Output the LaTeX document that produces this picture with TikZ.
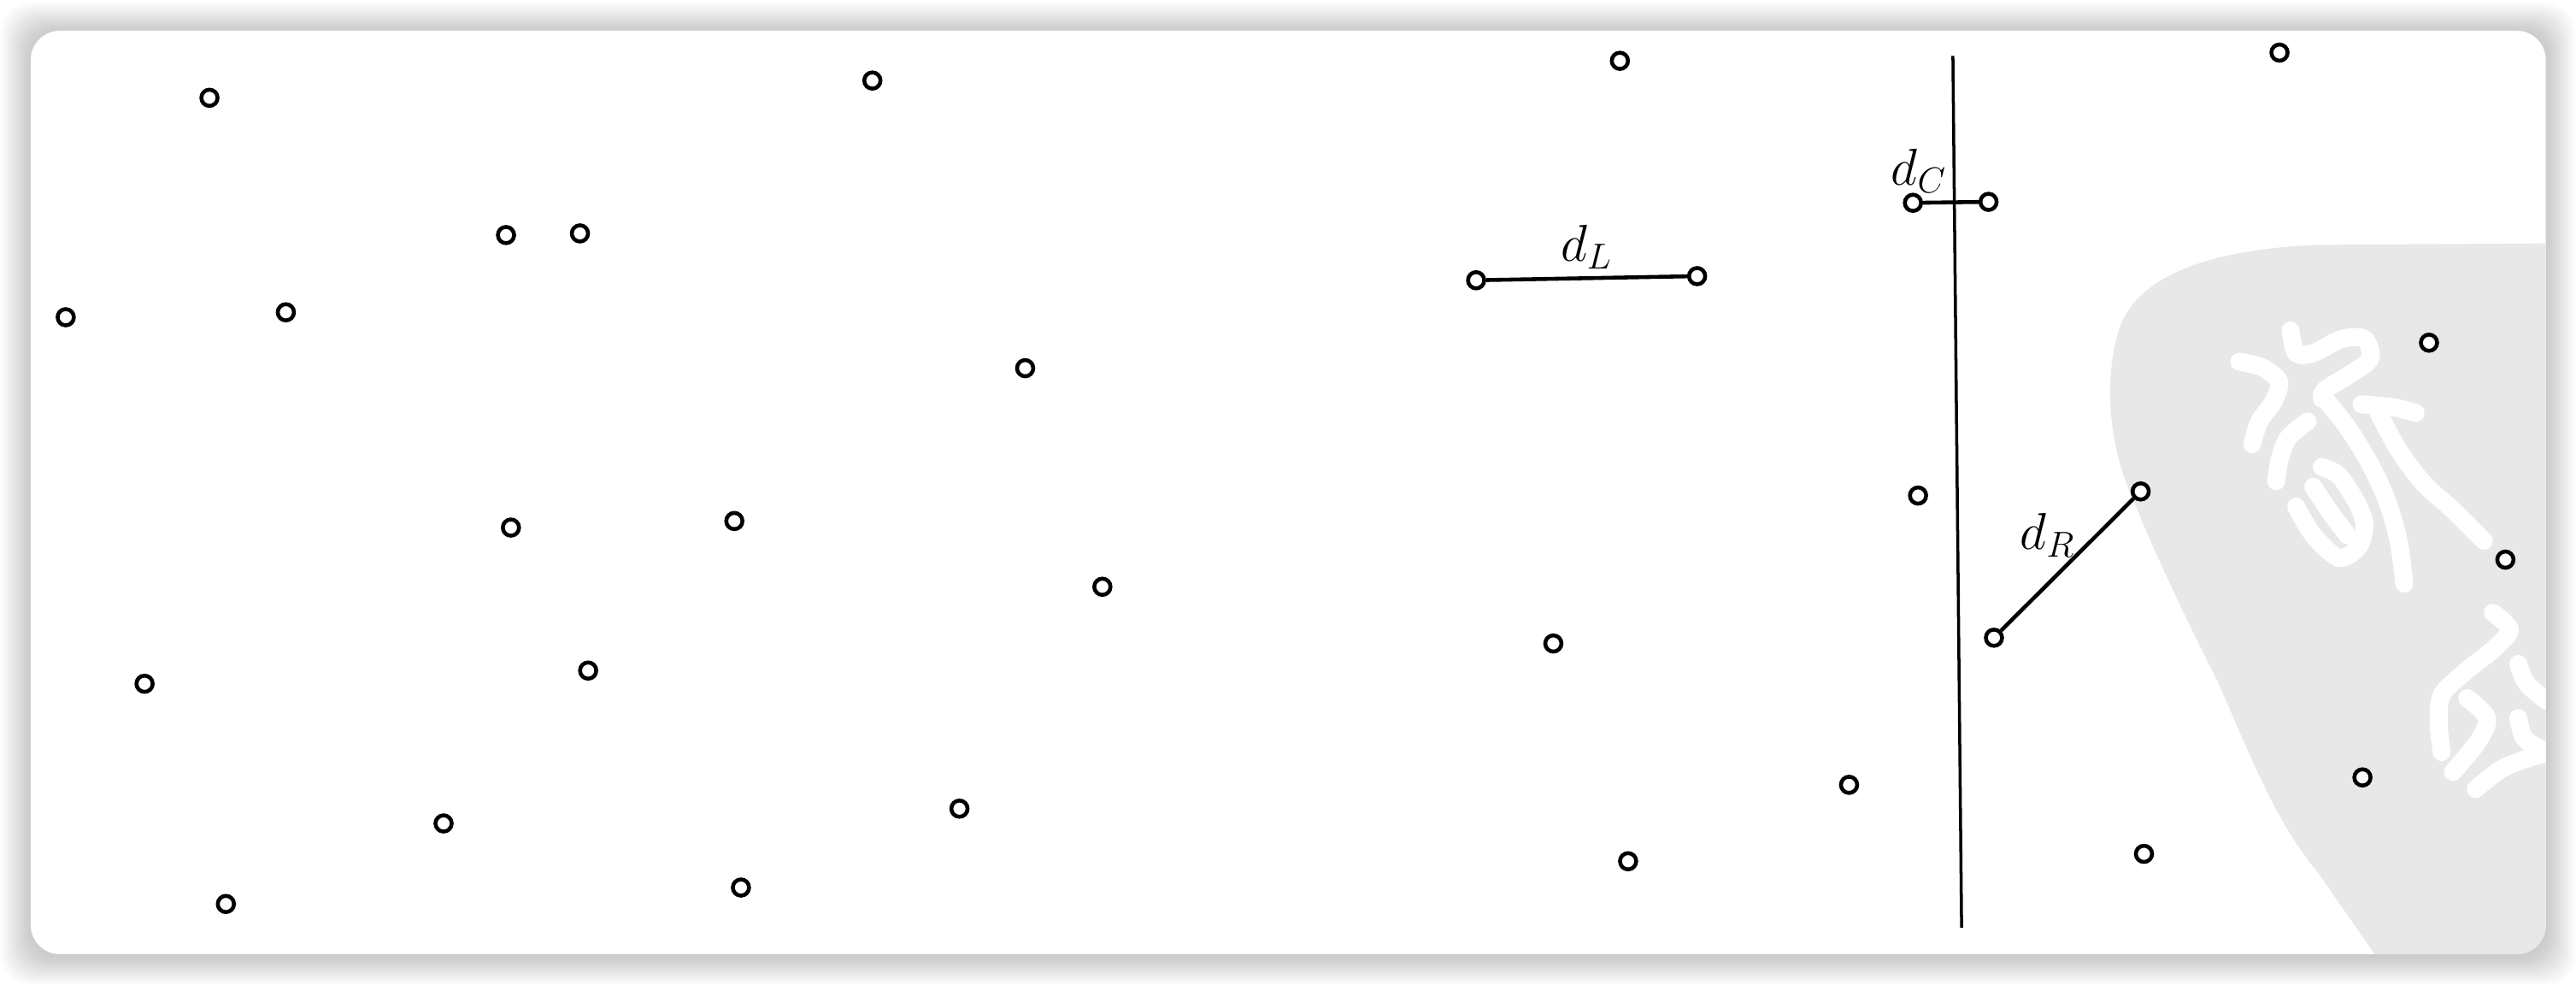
\documentclass[tikz,border=0pt]{standalone}
\usepackage{tikz}
\usetikzlibrary{positioning, calc}
\definecolor{stampgray}{HTML}{E8E8E8}
\tikzset{
    sample/.style={circle, draw=black, line width=1.3pt, fill=white, inner sep=0pt, minimum size=0.19cm},
    distline/.style={line width=1.3pt},
    divider/.style={line width=1pt},
    lbl/.style={font=\fontsize{17}{20}\selectfont, inner sep=0pt},
    seal/.style={white, line width=0.21cm, line cap=round, line join=round},
}

\begin{document}
\begin{tikzpicture}[x=0.01922cm, y=-0.01922cm]
        \useasboundingbox (0,0) rectangle (1568,599);

        % Card with soft shadow
        \foreach \i in {1,...,18}
            \fill[black, opacity=0.011, rounded corners=0.34cm] (18.7-\i,19.7-\i) rectangle (1549.6+\i,581.5+\i);
        \fill[white, rounded corners=0.34cm] (18.7,18.7) rectangle (1549.6,580.5);

        % Stamp in the corner
        \begin{scope}
            \clip[rounded corners=0.34cm] (18.7,18.7) rectangle (1549.6,580.5);
            \fill[stampgray] (1560,148) -- (1410,149) .. controls (1340,152) and (1300,170) .. (1290,200) .. controls (1282,225) and (1281,265) .. (1298,303) .. controls (1315,345) and (1335,385) .. (1350,415) .. controls (1370,460) and (1385,500) .. (1411,531) -- (1452,590) -- (1560,590) -- cycle;
            \begin{scope}[shift={(1331.93,145.68)}, x=0.003333cm, y=-0.003333cm]
                \draw[seal] plot[smooth] coordinates {(180,430) (260,450) (320,500) (300,570) (250,640) (225,720)};
                \draw[seal] plot[smooth] coordinates {(360,320) (380,400) (440,400) (540,350) (620,350) (640,420) (560,480) (480,530) (470,560)};
                \draw[seal] plot[smooth] coordinates {(480,560) (560,660) (640,790) (700,920) (740,1060) (760,1210)};
                \draw[seal] plot[smooth] coordinates {(610,580) (720,590) (800,610)};
                \draw[seal] plot[smooth] coordinates {(670,610) (740,740) (830,860) (930,950) (1040,1060)};
                \draw[seal] plot[smooth] coordinates {(420,640) (350,700) (320,780) (310,850)};
                \draw[seal] plot[smooth] coordinates {(380,940) (440,1040) (530,1120) (600,1080) (620,1000) (590,920) (530,830) (470,800)};
                \draw[seal] plot[smooth] coordinates {(440,870) (500,960) (560,1040)};
            \end{scope}
            \begin{scope}[shift={(1436.0,343.39)}, x=0.003333cm, y=-0.003333cm]
                \draw[seal] plot[smooth] coordinates {(470,170) (530,230) (470,300) (370,380) (290,460) (280,560) (290,660)};
                \draw[seal] plot[smooth] coordinates {(380,470) (450,540) (420,620) (330,730)};
                \draw[seal] plot[smooth] coordinates {(560,350) (590,420) (660,480)};
                \draw[seal] plot[smooth] coordinates {(410,790) (500,720) (600,680) (680,660)};
                \draw[seal] plot[smooth] coordinates {(560,540) (580,610) (640,650)};
            \end{scope}
        \end{scope}

        % Dividing line
        \coordinate (vtop) at (1188.7,34);
        \coordinate (vbot) at (1194,564.5);
        \draw[divider] (vtop) -- (vbot);

        % Nodes
        \node[sample] (p1) at (127.5,59.5) {};
        \node[sample] (p2) at (531,49) {};
        \node[sample] (p3) at (986,37) {};
        \node[sample] (p4) at (1387.5,32) {};
        \node[sample] (p5) at (308,143) {};
        \node[sample] (p6) at (353,142) {};
        \node[sample] (p7) at (40,193) {};
        \node[sample] (p8) at (174,190) {};
        \node[sample] (p9) at (624,224) {};
        \node[sample] (p10) at (1478.5,208.5) {};
        \node[sample] (p11) at (1167.5,301.5) {};
        \node[sample] (p12) at (311,321) {};
        \node[sample] (p13) at (447,317) {};
        \node[sample] (p14) at (671,357) {};
        \node[sample] (p15) at (1525,340.5) {};
        \node[sample] (p16) at (945.5,391.5) {};
        \node[sample] (p17) at (88,416) {};
        \node[sample] (p18) at (358,408) {};
        \node[sample] (p19) at (1125.5,477.5) {};
        \node[sample] (p20) at (1438,473) {};
        \node[sample] (p21) at (270,501) {};
        \node[sample] (p22) at (584,492) {};
        \node[sample] (p23) at (991,524) {};
        \node[sample] (p24) at (1305,519.5) {};
        \node[sample] (p25) at (137.5,550) {};
        \node[sample] (p26) at (451,540) {};

        \node[sample] (left_a) at (898.5,170.5) {};
        \node[sample] (left_b) at (1033,168) {};
        \node[sample] (cross_a) at (1164.4,123.4) {};
        \node[sample] (cross_b) at (1210.4,122.8) {};
        \node[sample] (right_a) at (1213.7,388) {};
        \node[sample] (right_b) at (1303,299) {};

        % Connections
        \draw[distline] (left_a) -- node[lbl, yshift=0.36cm] {$d_L$} (left_b);
        \draw[distline] (cross_a) -- node[lbl, xshift=-0.37cm, yshift=0.37cm] {$d_C$} (cross_b);
        \draw[distline] (right_a) -- node[lbl, xshift=-0.23cm, yshift=0.34cm] {$d_R$} (right_b);
\end{tikzpicture}
\end{document}
